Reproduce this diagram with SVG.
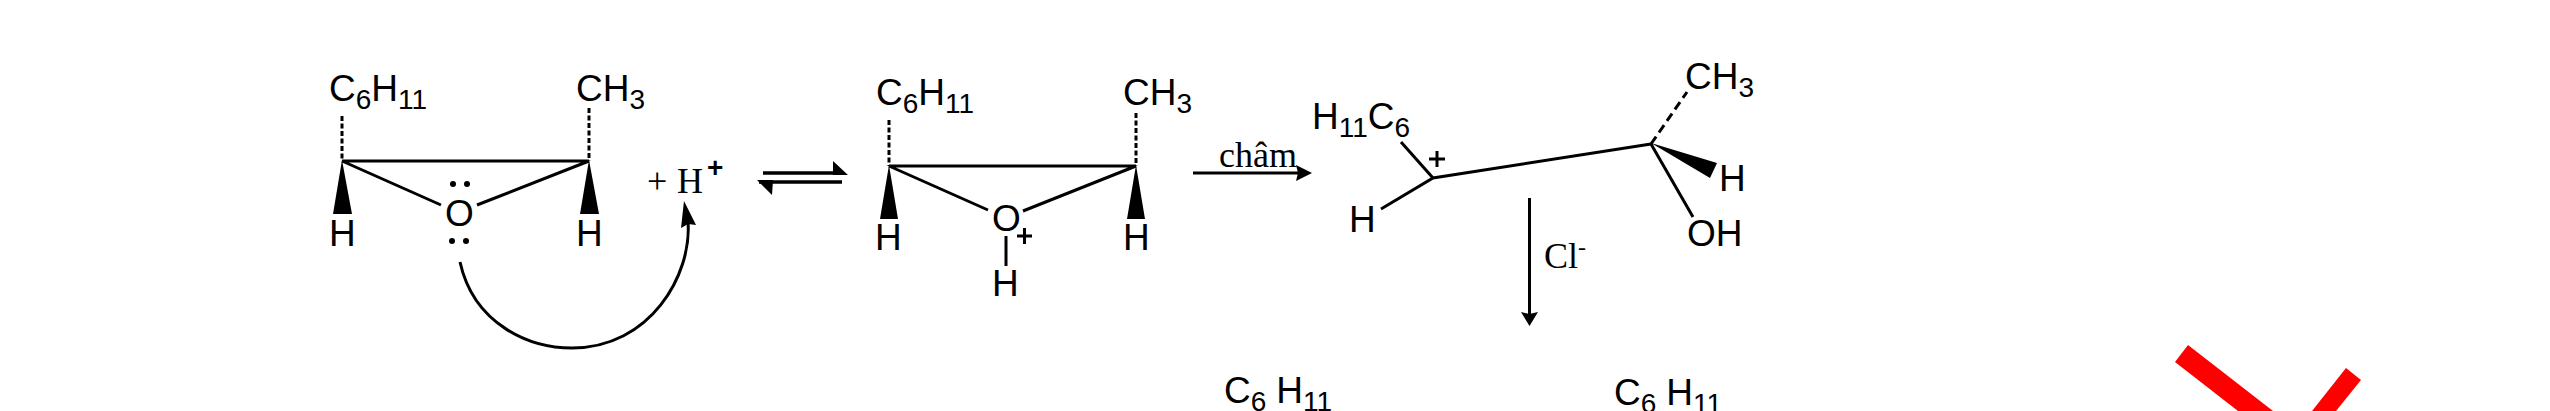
<svg xmlns="http://www.w3.org/2000/svg" width="2550" height="411" viewBox="0 0 2550 411">
<defs>
<style>
.s{font-family:"Liberation Sans",Arial,sans-serif;font-size:37px;fill:#000}
.r{font-family:"Liberation Serif","Times New Roman",serif;font-size:36px;fill:#000}
.sub{font-size:28px}
.b{stroke:#000;stroke-width:3;fill:none}
.e{stroke:#000;stroke-width:3.500;fill:none}
.d{stroke:#000;stroke-width:3;fill:none;stroke-dasharray:5 2.500}
.d2{stroke:#000;stroke-width:3;fill:none;stroke-dasharray:9 5}
.f{fill:#000}
</style>
</defs>
<rect width="2550" height="411" fill="#fff"/>
<g id="epoxide">
<text class="s" x="329" y="101">C<tspan class="sub" dy="8">6</tspan><tspan dy="-8">H</tspan><tspan class="sub" dy="8">11</tspan></text>
<text class="s" x="576" y="101">CH<tspan class="sub" dy="8">3</tspan></text>
<path class="d" d="M342 116V161M589 108V161"/>
<path class="b" d="M342 161H589M342 161L441 205M589 161L477 205"/>
<path class="f" d="M342 160L333 214H352ZM589 160L580 214H599Z"/>
<text class="s" x="329" y="246">H</text><text class="s" x="576" y="246">H</text>
<text class="s" x="445" y="226">O</text>
<g class="f"><circle cx="453" cy="184" r="3"/><circle cx="467" cy="184" r="3"/><circle cx="452" cy="241" r="3"/><circle cx="466" cy="241" r="3"/></g>
</g>
<g id="proton">
<text class="r" x="647" y="193">+</text>
<text class="r" x="677" y="193">H</text>
<text class="s" x="707" y="177" style="font-weight:bold;font-size:28px">+</text>
</g>
<g id="oxonium">
<text class="s" x="876" y="105">C<tspan class="sub" dy="8">6</tspan><tspan dy="-8">H</tspan><tspan class="sub" dy="8">11</tspan></text>
<text class="s" x="1123" y="105">CH<tspan class="sub" dy="8">3</tspan></text>
<path class="d" d="M889 120V166M1136 113V166"/>
<path class="b" d="M889 166H1136M889 166L988 210M1136 166L1023 211"/>
<path class="f" d="M889 165L880 219H898ZM1136 165L1127 219H1145Z"/>
<text class="s" x="875" y="250">H</text><text class="s" x="1123" y="250">H</text>
<text class="s" x="992" y="231">O</text>
<path class="b" d="M1006 236V266M1017 236H1032M1024.500 228V244"/>
<text class="s" x="992" y="296">H</text>
</g>
<g id="carbocation">
<text class="s" x="1312" y="129">H<tspan class="sub" dy="8">11</tspan><tspan dy="-8">C</tspan><tspan class="sub" dy="8">6</tspan></text>
<text class="s" x="1685" y="89">CH<tspan class="sub" dy="8">3</tspan></text>
<text class="s" x="1349" y="232">H</text>
<text class="s" x="1719" y="191">H</text>
<text class="s" x="1687" y="246">OH</text>
<path class="b" d="M1401 142L1433 178M1381 209L1433 178L1651 144M1651 144L1693 217"/>
<path class="d2" d="M1651 144L1687 92"/>
<path class="f" d="M1651 143L1717 163L1710 178Z"/>
<path class="b" d="M1429 159H1445M1437 151V167"/>
</g>
<g id="chloride"><text class="r" x="1544" y="268">Cl<tspan font-size="24" dy="-13">-</tspan></text></g>
<g id="reagent"><text class="r" x="1219" y="167">châm</text></g>
<g id="connectors">
<path class="b" d="M1193 173H1304"/>
<path class="f" d="M1312 173L1296 165L1298 173L1296 181Z"/>
<path class="b" d="M1529.500 198V318"/>
<path class="f" d="M1529.500 326L1521 312L1529.500 314L1538 312Z"/>
<path class="e" d="M763 173H842M759 182H842"/>
<path class="f" d="M848 175L833 161L833 175ZM757 180L773 180L772 195Z"/>
<path class="b" d="M460 262C474 325 530 348 572 348C650 348 692 275 688 222"/>
<path class="f" d="M684 201L696 225L688 224L681 228Z"/>
</g>
<g id="bottom">
<text class="s" x="1224" y="403">C<tspan class="sub" dy="8">6</tspan><tspan dx="10" dy="-8">H</tspan><tspan class="sub" dy="8">11</tspan></text>
<text class="s" x="1614" y="405">C<tspan class="sub" dy="8">6</tspan><tspan dx="10" dy="-8">H</tspan><tspan class="sub" dy="8">11</tspan></text>
</g>
<g id="cross" fill="#f00"><path d="M2188 345L2175 362L2238 411H2273Z"/><path d="M2346 368L2361 380L2336 411H2312Z"/></g>
</svg>
